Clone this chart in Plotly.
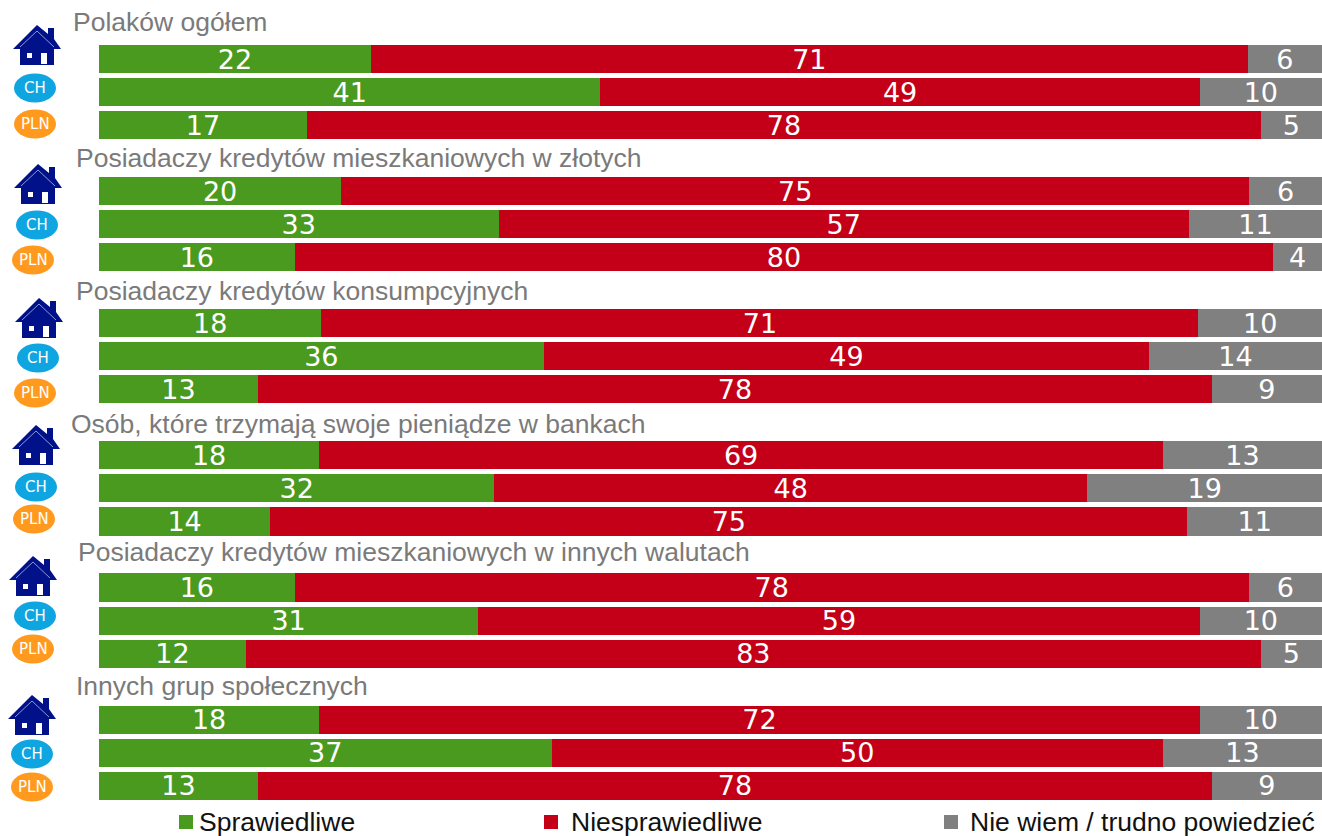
import plotly.graph_objects as go

W = 1322
H = 836

# Survey groups, each with three rows: all loans, CHF loans, PLN loans
group_titles = [
    "Polaków ogółem",
    "Posiadaczy kredytów mieszkaniowych w złotych",
    "Posiadaczy kredytów konsumpcyjnych",
    "Osób, które trzymają swoje pieniądze w bankach",
    "Posiadaczy kredytów mieszkaniowych w innych walutach",
    "Innych grup społecznych",
]
series_names = ["Sprawiedliwe", "Niesprawiedliwe", "Nie wiem / trudno powiedzieć"]
series_colors = ["#4a9a20", "#c40018", "#808080"]

fair = [22, 41, 17, 20, 33, 16, 18, 36, 13, 18, 32, 14, 16, 31, 12, 18, 37, 13]
unfair = [71, 49, 78, 75, 57, 80, 71, 49, 78, 69, 48, 75, 78, 59, 83, 72, 50, 78]
dont_know = [6, 10, 5, 6, 11, 4, 10, 14, 9, 13, 19, 11, 6, 10, 5, 10, 13, 9]

# Hand placed pieces in the original slide (pixels)
title_pos = [(72, 22), (75, 158), (75, 291), (70, 424), (77, 552), (75, 686)]
house_pos = [(37, 25), (38, 164), (39, 298), (36, 425), (33, 556), (32, 695)]
ch_pos = [(35, 88), (37, 225), (38, 358), (36, 487), (35, 616), (32, 754)]
pln_pos = [(35, 124), (33, 260), (35, 393), (34, 519), (33, 649), (32, 787)]
legend_pos = [(179, 198), (544, 570), (944, 969)]


def px(x):
    return x / W


def py(y):
    return 1 - y / H


def to_path(points):
    return "M" + " L".join(f"{px(x)},{py(y)}" for x, y in points) + " Z"


def paper_shape(**kwargs):
    return dict(xref="paper", yref="paper", layer="above", **kwargs)


def paper_text(x, y, text, font, xanchor="left"):
    return dict(
        x=px(x),
        y=py(y),
        xref="paper",
        yref="paper",
        xanchor=xanchor,
        yanchor="middle",
        borderpad=0,
        text=text,
        showarrow=False,
        font=font,
    )


def house_shapes(cx, top):
    navy = "#00118a"
    roof = [(0, 0), (11, 9), (11, 3), (17, 3), (17, 14), (24, 24), (-24, 24)]
    body = [(-17, 24), (17, 24), (17, 40), (-17, 40)]
    door = [(4, 28), (10, 28), (10, 39), (4, 39)]
    window = [(-10, 28), (-5, 28), (-5, 33), (-10, 33)]
    shapes = []
    for pts, color in [(roof, navy), (body, navy), (door, "white"), (window, "white")]:
        shifted = [(cx + dx, top + dy) for dx, dy in pts]
        shapes.append(paper_shape(type="path", path=to_path(shifted), fillcolor=color, line_width=0))
    # thin pale line under the roof edge
    ridge = [(cx - 17, top + 22), (cx, top + 6), (cx + 17, top + 22)]
    ridge_path = "M" + " L".join(f"{px(x)},{py(y)}" for x, y in ridge)
    shapes.append(paper_shape(type="path", path=ridge_path, line=dict(color="#8c96d2", width=1)))
    return shapes


def badge(cx, cy, label, color):
    shape = paper_shape(
        type="circle",
        x0=px(cx - 21),
        x1=px(cx + 21),
        y0=py(cy + 14.5),
        y1=py(cy - 14.5),
        fillcolor=color,
        line_width=0,
    )
    note = paper_text(cx, cy, label, dict(family="DejaVu Sans", size=15, color="white"), xanchor="center")
    return shape, note


# Rows go 0,1,2 then one empty row before the next group
rows = [g * 4 + r for g in range(6) for r in range(3)]

fig = go.Figure()
for name, color, values in zip(series_names, series_colors, [fair, unfair, dont_know]):
    fig.add_trace(
        go.Bar(
            x=values,
            y=rows,
            name=name,
            orientation="h",
            marker=dict(color=color, line_width=0),
            text=values,
            textposition="inside",
            insidetextanchor="middle",
            textangle=0,
            constraintext="none",
            textfont=dict(family="DejaVu Sans", size=27, color="white"),
            width=0.85,
            showlegend=False,
        )
    )

shapes = []
annotations = []

for title, (x, y) in zip(group_titles, title_pos):
    annotations.append(paper_text(x, y, title, dict(family="Liberation Sans", size=26.5, color="#7a7a7a")))

for x, top in house_pos:
    shapes.extend(house_shapes(x, top))

for x, y in ch_pos:
    shape, note = badge(x, y, "CH", "#0ea5e0")
    shapes.append(shape)
    annotations.append(note)

for x, y in pln_pos:
    shape, note = badge(x, y, "PLN", "#ff9a1e")
    shapes.append(shape)
    annotations.append(note)

for name, color, (box_x, text_x) in zip(series_names, series_colors, legend_pos):
    shapes.append(
        paper_shape(
            type="rect",
            x0=px(box_x),
            x1=px(box_x + 14),
            y0=py(829),
            y1=py(815),
            fillcolor=color,
            line_width=0,
        )
    )
    annotations.append(paper_text(text_x, 822, name, dict(family="Liberation Sans", size=26.5, color="#111111")))

fig.update_layout(
    width=W,
    height=H,
    barmode="stack",
    barnorm="percent",
    margin=dict(l=0, r=0, t=0, b=0),
    paper_bgcolor="white",
    plot_bgcolor="white",
    shapes=shapes,
    annotations=annotations,
    xaxis=dict(domain=[px(99), 1], range=[0, 100], visible=False),
    yaxis=dict(domain=[py(802.2), py(42.6)], range=[22.5, -0.5], visible=False),
)

fig.write_html(
    "out.html",
    config=dict(displayModeBar=False),
    post_script="document.body.style.margin='0';",
)
